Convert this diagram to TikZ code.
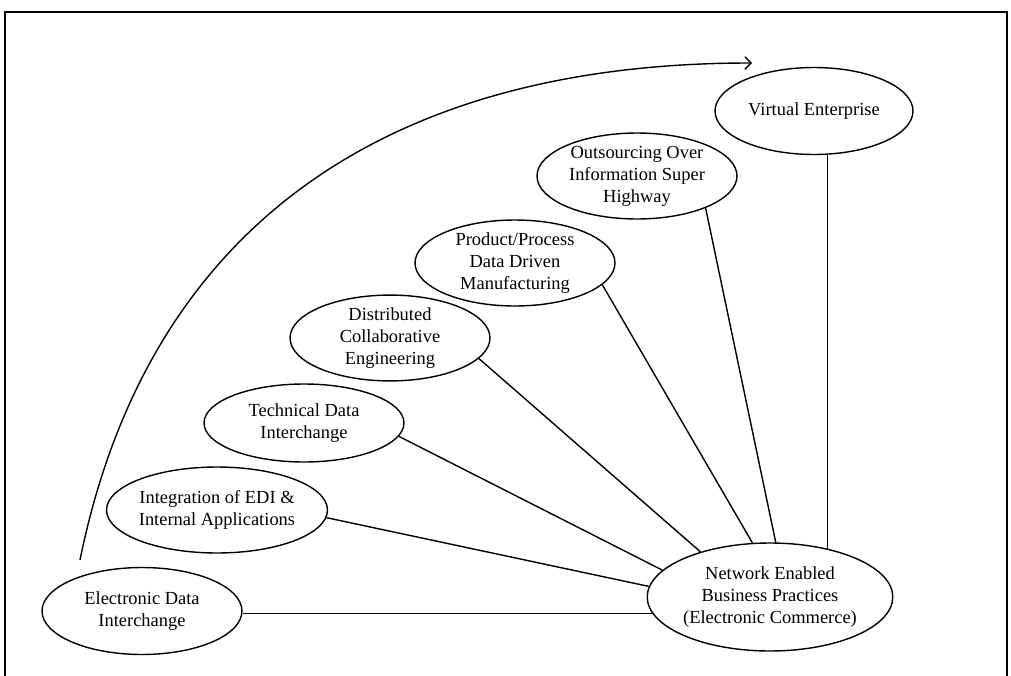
\documentclass[tikz,border=0pt]{standalone}
\usepackage{fontspec}
\setmainfont{Liberation Serif}
\usetikzlibrary{shapes.geometric, arrows.meta}

\begin{document}
\begin{tikzpicture}[x=0.02cm, y=-0.02cm, line width=0.8pt,
		font=\fontsize{10.5}{12.5}\selectfont,
		stage/.style={ellipse, draw, align=center, inner sep=0pt, minimum width=4cm, minimum height=1.72cm}]
			
			% Frame
			\useasboundingbox (0,0) rectangle (1011,676);
			\draw (5,676) -- (5,12) -- (1007,12) -- (1007,676);
			
			% Stages
			\node[stage, minimum height=1.74cm] (edi) at (142,611) {Electronic Data\\Interchange};
			\node[stage] (integ) at (217,510) {Integration of EDI \&\\Internal Applications};
			\node[stage, minimum height=1.56cm] (tech) at (304,423) {Technical Data\\Interchange};
			\node[stage, minimum height=1.66cm] (dist) at (390,338) {Distributed\\Collaborative\\Engineering};
			\node[stage] (prod) at (515,263) {Product/Process\\Data Driven\\Manufacturing};
			\node[stage] (outs) at (637,176) {Outsourcing Over\\Information Super\\Highway};
			\node[stage, minimum width=3.96cm, minimum height=1.74cm] (ve) at (814,111) {Virtual Enterprise};
			
			% Electronic Commerce
			\node[stage, minimum width=4.7cm, minimum height=2.16cm] (net) at (770,597) {Network Enabled\\Business Practices\\(Electronic Commerce)};
			
			% Links
			\draw (net.188) -- (net.188 -| edi.east);
			\draw (integ.-4) -- (net.175);
			\draw (tech.-8) -- (net.166);
			\draw (dist.-13) -- (net.147);
			\draw (prod.-14) -- (net.108);
			\draw (outs.-25) -- (net.84);
			\draw (net.40) -- (net.40 |- ve.south);
			
			% Evolution arrow
			\coordinate (start) at (80,560);
			\coordinate (finish) at (752,63);
			\draw[-{Straight Barb[length=3.5pt, width=7pt]}] (start) .. controls (145,240) and (370,63) .. (finish);
			
		\end{tikzpicture}
\end{document}
